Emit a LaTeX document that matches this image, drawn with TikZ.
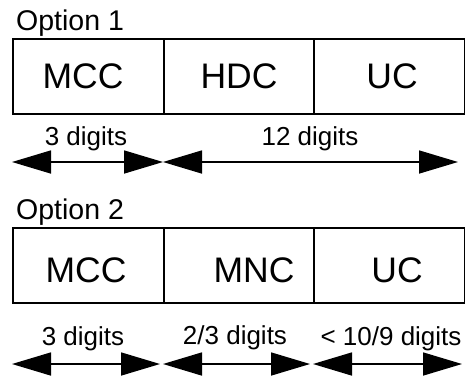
\documentclass[tikz,border=0pt]{standalone}
\usepackage{fontspec}
\setmainfont{Liberation Sans}
\usetikzlibrary{arrows.meta}
\begin{document}
\begin{tikzpicture}[x=1pt,y=-1pt,
  cell/.style={draw=black, line width=1.5pt, inner sep=0pt, anchor=north west,
    minimum height=75pt},
  field/.style={inner sep=0pt, font=\fontsize{35.5}{40}\selectfont},
  caption/.style={inner sep=0pt, anchor=base west, font=\fontsize{28.5}{32}\selectfont},
  span/.style={inner sep=0pt, anchor=base, font=\fontsize{26}{29}\selectfont},
  dim/.style={line width=1.6pt, {Triangle[length=39pt,width=23pt]}-{Triangle[length=39pt,width=23pt]}}]
\useasboundingbox (0,0) rectangle (465,376);

% ---------- Option 1 ----------
\node[caption] (opt1) at (16,30) {Option 1};
\node[cell, minimum width=151pt] (a1) at (12,38) {};
\node[cell, minimum width=150pt] (a2) at (163,38) {};
\node[cell, minimum width=151pt] (a3) at (313,38) {};
\node[field] (mcc1) at (83,76.5) {MCC};
\node[field] (hdc)  at (239,76.5) {HDC};
\node[field] (uc1)  at (392,76.5) {UC};

\node[span] (d1) at (86,145) {3 digits};
\node[span] (d2) at (310,145) {12 digits};
\coordinate (p1) at (12,162);
\coordinate (p2) at (163,162);
\coordinate (p3) at (458,162);
\draw[dim] (p1) -- (p2);
\draw[dim] (p2) -- (p3);

% ---------- Option 2 ----------
\node[caption] (opt2) at (16,219) {Option 2};
\node[cell, minimum width=151pt] (b1) at (12,227) {};
\node[cell, minimum width=150pt] (b2) at (163,227) {};
\node[cell, minimum width=151pt] (b3) at (313,227) {};
\node[field] (mcc2) at (86,270) {MCC};
\node[field] (mnc)  at (254,270) {MNC};
\node[field] (uc2)  at (397,270) {UC};

\node[span] (e1) at (83,345) {3 digits};
\node[span] (e2) at (235,344) {2/3 digits};
\node[span] (e3) at (391,345) {< 10/9 digits};
\coordinate (q1) at (12,364);
\coordinate (q2) at (160,364);
\coordinate (q3) at (163,364);
\coordinate (q4) at (310,364);
\coordinate (q5) at (313,364);
\coordinate (q6) at (462,364);
\draw[dim] (q1) -- (q2);
\draw[dim] (q3) -- (q4);
\draw[dim] (q5) -- (q6);
\end{tikzpicture}
\end{document}
